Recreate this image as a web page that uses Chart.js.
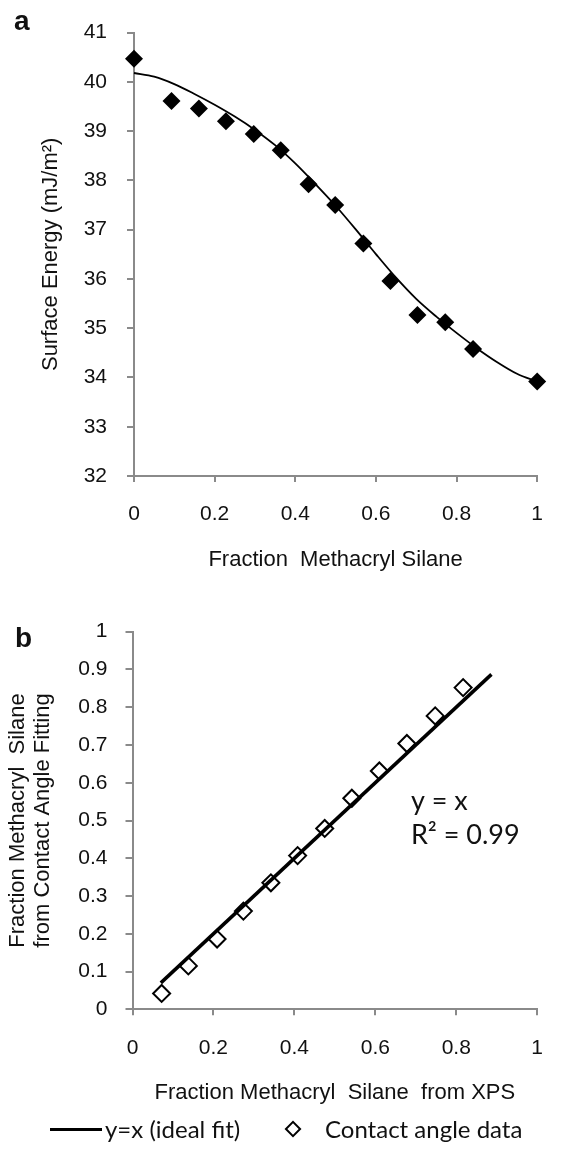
<!DOCTYPE html>
<html lang="en">
<head>
  <meta charset="UTF-8" />
  <title>Surface energy vs. methacryl silane fraction</title>
  <script src="https://cdn.jsdelivr.net/npm/chart.js@4.4.1/dist/chart.umd.min.js"></script>
  <style>
    html, body {
      margin: 0; padding: 0; background: #fff;
      width: 563px; height: 1155px; overflow: hidden; position: relative;
      font-family: 'Liberation Sans', Arial, sans-serif; color: #111;
    }
    canvas { position: absolute; left: 0; }
    #chartA { top: 0; }
    #chartB { top: 600px; }
    .panel { position: absolute; font-weight: bold; font-size: 28px; line-height: 28px; }
    #legend { position: absolute; left: 0; top: 1110px; width: 563px; height: 45px;
              font-family: Lato, 'Open Sans', sans-serif; font-size: 24px; }
    #legend .txt { position: absolute; top: 5px; line-height: 28px; }
    #legend .ln { position: absolute; left: 50px; top: 17.5px; width: 52px; height: 3.5px; background: #000; }
    #legend .dia { position: absolute; left: 287px; top: 13px; width: 12px; height: 12px;
                   border: 2px solid #000; transform: rotate(45deg); box-sizing: border-box; }
  </style>
</head>
<body>
  <canvas id="chartA" width="563" height="600"></canvas>
  <canvas id="chartB" width="563" height="555"></canvas>
  <div class="panel" style="left:14px; top:7px;">a</div>
  <div class="panel" style="left:15px; top:624px;">b</div>
  <div id="legend">
    <div class="ln"></div><span class="txt" style="left:105px;">y=x (ideal fit)</span>
    <div class="dia"></div><span class="txt" style="left:325px;">Contact angle data</span>
  </div>

  <script>
    // ─── panel a: surface energy vs fraction methacryl silane ───
    const fracA   = [0, 0.093, 0.161, 0.228, 0.297, 0.364, 0.433, 0.499, 0.569, 0.636, 0.703, 0.772, 0.841, 1.0];
    const energyA = [40.47, 39.61, 39.46, 39.20, 38.94, 38.61, 37.92, 37.50, 36.72, 35.96, 35.27, 35.12, 34.58, 33.92];
    // fitted curve
    const fitX = [0, 0.05, 0.1, 0.15, 0.2, 0.25, 0.3, 0.35, 0.4, 0.45, 0.5, 0.55, 0.6, 0.65, 0.7, 0.75, 0.8, 0.85, 0.9, 0.95, 1.0];
    const fitY = [40.18, 40.105, 39.955, 39.755, 39.535, 39.295, 39.025, 38.715, 38.345, 37.925, 37.485,
                  37.005, 36.505, 36.025, 35.595, 35.235, 34.905, 34.595, 34.315, 34.075, 33.915];
    const yTicksA = [32, 33, 34, 35, 36, 37, 38, 39, 40, 41];
    const xTicks  = [0, 0.2, 0.4, 0.6, 0.8, 1];

    // ─── panel b: contact-angle fit vs XPS ───
    const xpsB     = [0.072, 0.138, 0.209, 0.274, 0.342, 0.408, 0.475, 0.542, 0.610, 0.678, 0.748, 0.817];
    const contactB = [0.042, 0.115, 0.186, 0.260, 0.335, 0.407, 0.479, 0.559, 0.631, 0.704, 0.777, 0.852];
    const idealX   = [0.07, 0.887];
    const yTicksB  = [0, 0.1, 0.2, 0.3, 0.4, 0.5, 0.6, 0.7, 0.8, 0.9, 1];
    const fitText  = ['y = x', 'R\u00B2 = 0.99'];
    const fitTextAt = [[0.688, 0.55], [0.688, 0.461]];

    const GRAY = '#8a8a8a';
    Chart.defaults.font.family = "'Liberation Sans', Arial, sans-serif";
    Chart.defaults.color = '#111';

    const fmt = v => String(+v.toFixed(2));

    function xAxis(title, height, titlePad) {
      return {
        type: 'linear', min: 0, max: 1,
        afterBuildTicks: s => { s.ticks = xTicks.map(v => ({ value: v })); },
        afterFit: s => { s.height = height; },
        ticks: { callback: fmt, padding: 20, font: { size: 21 }, maxRotation: 0 },
        grid: { drawOnChartArea: false, tickLength: 6, color: GRAY, lineWidth: 2 },
        border: { color: GRAY, width: 2 },
        title: { display: true, text: title, font: { size: 22 }, padding: { top: 0, bottom: titlePad } }
      };
    }

    function yAxis(min, max, ticks, title, width, titlePad, tickPad) {
      return {
        type: 'linear', min: min, max: max,
        afterBuildTicks: s => { s.ticks = ticks.map(v => ({ value: v })); },
        afterFit: s => { s.width = width; },
        ticks: { callback: fmt, padding: tickPad, font: { size: 21 } },
        grid: { drawOnChartArea: false, tickLength: 7, color: GRAY, lineWidth: 2 },
        border: { color: GRAY, width: 2 },
        title: { display: true, text: title, font: { size: 22, lineHeight: 1.15 }, padding: { top: titlePad, bottom: 0 } }
      };
    }

    const common = {
      responsive: false, animation: false, events: [],
      plugins: { legend: { display: false }, tooltip: { enabled: false } }
    };

    new Chart(document.getElementById('chartA'), {
      type: 'scatter',
      data: {
        datasets: [
          { data: fracA.map((x, i) => ({ x, y: energyA[i] })), pointStyle: 'rectRot',
            pointRadius: 9, backgroundColor: '#000', borderWidth: 0, clip: false, order: 0 },
          { data: fitX.map((x, i) => ({ x, y: fitY[i] })), showLine: true, pointRadius: 0,
            borderColor: '#000', borderWidth: 1.8, cubicInterpolationMode: 'monotone', clip: false, order: 1 }
        ]
      },
      options: Object.assign({}, common, {
        layout: { padding: { left: 0, top: 31, right: 22, bottom: 0 } },
        scales: {
          x: xAxis('Fraction  Methacryl Silane', 124, 27),
          y: yAxis(32, 41, yTicksA, 'Surface Energy (mJ/m\u00B2)', 134, 38, 20)
        }
      })
    });

    const fitLabel = {
      id: 'fitLabel',
      afterDatasetsDraw(chart) {
        const { ctx, scales: { x, y } } = chart;
        ctx.save();
        ctx.font = '27px Lato, "Open Sans", sans-serif';
        ctx.fillStyle = '#111';
        ctx.textBaseline = 'middle';
        fitText.forEach((t, i) => {
          ctx.fillText(t, x.getPixelForValue(fitTextAt[i][0]), y.getPixelForValue(fitTextAt[i][1]));
        });
        ctx.restore();
      }
    };

    new Chart(document.getElementById('chartB'), {
      type: 'scatter',
      data: {
        datasets: [
          { data: idealX.map(v => ({ x: v, y: v })), showLine: true, pointRadius: 0,
            borderColor: '#000', borderWidth: 3.5, clip: false, order: 0 },
          { data: xpsB.map((x, i) => ({ x, y: contactB[i] })), pointStyle: 'rectRot',
            pointRadius: 8.5, backgroundColor: '#fff', borderColor: '#000', borderWidth: 2, clip: false, order: 1 }
        ]
      },
      options: Object.assign({}, common, {
        layout: { padding: { left: 0, top: 31.7, right: 22, bottom: 0 } },
        scales: {
          x: xAxis('Fraction Methacryl  Silane  from XPS', 145.7, 48.5),
          y: yAxis(0, 1, yTicksB, ['Fraction Methacryl  Silane', 'from Contact Angle Fitting'], 132.5, 5, 18)
        }
      }),
      plugins: [fitLabel]
    });
  </script>
</body>
</html>
